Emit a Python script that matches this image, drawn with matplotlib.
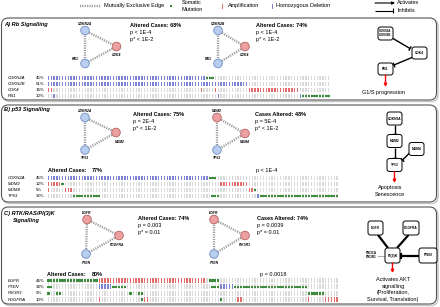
import matplotlib.pyplot as plt
from matplotlib.patches import FancyBboxPatch, Circle, Rectangle
import numpy as np

plt.rcParams['font.family'] = ['Liberation Sans', 'DejaVu Sans']

W, H = 440, 307
BLUE = '#7f83d3'
RED = '#e36b6b'
GREEN = '#3b8c3b'
GREY = '#dadada'

# oncoprint data: runs of (first sample, last sample, alteration)
# D = homozygous deletion, A = amplification, M = somatic mutation
n_a = 100
genes_a = ['CDKN2A', 'CDKN2B', 'CDK4', 'RB1']
pct_a = ['45%', '51%', '16%', '10%']
runs_a = [
    [(0, 55, 'D'), (56, 58, 'M')],
    [(0, 70, 'D')],
    [(0, 1, 'A'), (54, 54, 'A'), (59, 59, 'A'), (71, 88, 'A')],
    [(2, 2, 'D'), (60, 60, 'D'), (89, 89, 'D'), (90, 99, 'M')],
]

n_b = 103
genes_b = ['CDKN2A', 'MDM2', 'MDM4', 'TP53']
pct_b = ['45%', '12%', '5%', '32%']
runs_b = [
    [(0, 56, 'D'), (57, 59, 'M')],
    [(0, 4, 'A'), (5, 5, 'M'), (61, 70, 'A')],
    [(0, 0, 'A'), (6, 8, 'A'), (71, 72, 'A'), (73, 73, 'M')],
    [(9, 18, 'M'), (58, 60, 'M'), (74, 74, 'D'), (75, 102, 'M')],
]

n_c = 103
genes_c = ['EGFR', 'PTEN', 'PIK3R1', 'PDGFRA']
pct_c = ['46%', '34%', '9%', '10%']
runs_c = [
    [(0, 17, 'M'), (18, 55, 'A'), (57, 60, 'M')],
    [(0, 1, 'M'), (18, 22, 'D'), (23, 27, 'M'), (58, 60, 'M'), (61, 65, 'D'), (66, 91, 'M')],
    [(0, 0, 'M'), (3, 4, 'M'), (29, 29, 'M'), (32, 33, 'M'), (92, 97, 'M')],
    [(18, 18, 'A'), (33, 33, 'M'), (34, 35, 'A'), (61, 61, 'M'), (67, 68, 'A'), (92, 92, 'A'), (98, 102, 'A')],
]

# network stats text
stats_a1 = ['Altered Cases: 68%', 'p < 1E-4', 'p* < 1E-2']
stats_a2 = ['Altered Cases: 74%', 'p < 1E-4', 'p* < 1E-2']
stats_b1 = ['Altered Cases: 75%', 'p = 2E-4', 'p* < 1E-2']
stats_b2 = ['Cases Altered: 48%', 'p = 5E-4', 'p* < 1E-2']
stats_c1 = ['Altered Cases: 74%', 'p = 0.003', 'p* = 0.01']
stats_c2 = ['Cases Altered: 74%', 'p = 0.0039', 'p* = 0.01']

amplified = {'CDK4', 'MDM2', 'MDM4', 'EGFR', 'PDGFRA', 'PIK3R1'}

fig = plt.figure(figsize=(4.4, 3.07), dpi=100)
ax = fig.add_axes([0, 0, 1, 1])
ax.set_xlim(0, W)
ax.set_ylim(H, 0)
ax.axis('off')

FS = 4.0
TFS = 4.1


def px_axes(x0, y0, x1, y1):
    a = fig.add_axes([x0 / W, 1 - y1 / H, (x1 - x0) / W, (y1 - y0) / H])
    a.axis('off')
    return a


def panel(y0, y1):
    ax.add_patch(FancyBboxPatch((3, y0 + 1.5), 435, y1 - y0, boxstyle='round,pad=0,rounding_size=7',
                                fc='none', ec='#c4c4c4', lw=1.0))
    ax.add_patch(FancyBboxPatch((1.5, y0), 435, y1 - y0, boxstyle='round,pad=0,rounding_size=7',
                                fc='white', ec='#555555', lw=0.8))


def oncoprint(n, genes, pcts, runs, y_first, step, x0=47, spacing=2.83):
    y_top = y_first - step / 2
    a = px_axes(x0, y_top, x0 + n * spacing, y_top + step * len(genes))
    a.set_xlim(-0.5, n - 0.5)
    a.set_ylim(len(genes) - 0.5, -0.5)
    cols = np.arange(n)
    for r, g in enumerate(genes):
        a.bar(cols, 0.8, bottom=r - 0.4, width=0.45, color=GREY, lw=0)
        for s, e, kind in runs[r]:
            idx = np.arange(s, e + 1)
            if kind == 'M':
                a.bar(idx, 0.38, bottom=r - 0.19, width=0.78, color=GREEN, lw=0)
            else:
                a.bar(idx, 0.8, bottom=r - 0.4, width=0.5, color=BLUE if kind == 'D' else RED, lw=0)
        yy = y_first + r * step
        ax.text(7.5, yy, g, fontsize=3.2, style='italic', va='center', ha='left')
        ax.text(35.5, yy, pcts[r], fontsize=3.2, va='center', ha='left')


def network(names, pos, label_pos, stats, stats_xy):
    pts = [pos[k] for k in names]
    for i in range(3):
        for j in range(i + 1, 3):
            ax.plot([pts[i][0], pts[j][0]], [pts[i][1], pts[j][1]], color='#9a9a9a',
                    lw=1.7, linestyle=(0, (0.5, 0.5)), zorder=2)
    for k in names:
        amp = k in amplified
        ax.add_patch(Circle(pos[k], 4.3, fc='#eda0a0' if amp else '#b9cdef',
                            ec='#b76060' if amp else '#6f8fc4', lw=0.6, zorder=3))
        lx, ly = label_pos[k]
        ax.text(lx, ly, k, fontsize=2.4, style='italic', weight='bold', ha='center', va='center')
    sx, sy = stats_xy
    ax.text(sx, sy, stats[0], fontsize=FS, weight='bold', va='center')
    ax.text(sx, sy + 7, stats[1], fontsize=FS, va='center')
    ax.text(sx, sy + 13.5, stats[2], fontsize=FS, va='center')


def box(cx, cy, w, h, label, fs=2.3):
    ax.add_patch(FancyBboxPatch((cx - w / 2, cy - h / 2), w, h, boxstyle='round,pad=0,rounding_size=2.5',
                                fc='white', ec='black', lw=0.7, zorder=3))
    ax.text(cx, cy, label, fontsize=fs, weight='bold', ha='center', va='center', zorder=4,
            linespacing=1.0)


def inhibit(p0, p1, lw=1.0, bar=2.5, color='black'):
    (x0, y0), (x1, y1) = p0, p1
    ax.plot([x0, x1], [y0, y1], color=color, lw=lw, solid_capstyle='butt')
    d = np.array([x1 - x0, y1 - y0], float)
    d /= np.hypot(*d)
    n = np.array([-d[1], d[0]])
    ax.plot([x1 - n[0] * bar, x1 + n[0] * bar], [y1 - n[1] * bar, y1 + n[1] * bar],
            color=color, lw=lw, solid_capstyle='butt')


def activate(p0, p1, color='red', lw=1.0):
    ax.annotate('', xy=p1, xytext=p0,
                arrowprops=dict(arrowstyle='-|>', color=color, lw=lw, mutation_scale=4,
                                shrinkA=0, shrinkB=0))


# ---- legend ----
ax.plot([80, 101], [6, 6], color='#9a9a9a', lw=1.7, linestyle=(0, (0.5, 0.5)))
ax.text(103.5, 6, 'Mutually Exclusive Edge', fontsize=FS, va='center')
ax.add_patch(Rectangle((169.5, 4.8), 2.6, 2.4, color=GREEN, lw=0))
ax.text(181.5, 2.3, 'Somatic', fontsize=FS, va='center')
ax.text(181.5, 9.5, 'Mutation', fontsize=FS, va='center')
ax.add_patch(Rectangle((221.5, 3.5), 1.5, 5, color=RED, lw=0))
ax.text(228, 6, 'Amplification', fontsize=FS, va='center')
ax.add_patch(Rectangle((271.5, 3.5), 1.5, 5, color=BLUE, lw=0))
ax.text(276.5, 6, 'Homozygous Deletion', fontsize=FS, va='center')
activate((375, 3), (395, 3), color='black', lw=0.8)
ax.text(397, 3, 'Activates', fontsize=FS, va='center')
inhibit((375, 10.5), (393, 10.5), lw=0.8, bar=2.2)
ax.text(397, 10.5, 'Inhibits', fontsize=FS, va='center')

# ---- panel A ----
panel(18, 100)
ax.text(4, 24.5, 'A) Rb Signalling', fontsize=TFS, weight='bold', style='italic', va='center')
network(['CDKN2A', 'CDK4', 'RB1'],
        {'CDKN2A': (85, 30.5), 'CDK4': (116.5, 46.5), 'RB1': (85, 63.5)},
        {'CDKN2A': (85, 24), 'CDK4': (117, 55.5), 'RB1': (75, 59.5)},
        stats_a1, (130, 25.5))
network(['CDKN2B', 'CDK4', 'RB1'],
        {'CDKN2B': (218, 30.5), 'CDK4': (245, 46.5), 'RB1': (218, 63.5)},
        {'CDKN2B': (218, 24), 'CDK4': (245, 55.5), 'RB1': (208, 59.5)},
        stats_a2, (256, 25.5))
box(385.5, 33.5, 15, 13, 'CDKN2A\nCDKN2B', fs=2.1)
box(419.5, 53, 15, 12, 'CDK4')
box(385.5, 69, 15, 12, 'RB1')
inhibit((393, 38.5), (410, 48.5))
inhibit((412, 57.5), (394, 65))
activate((385.5, 75), (385.5, 87))
ax.text(384, 92.5, 'G1/S progression', fontsize=FS, ha='center', va='center')
oncoprint(n_a, genes_a, pct_a, runs_a, 78, 6)

# ---- panel B ----
panel(105, 202)
ax.text(4, 110, 'B) p53 Signalling', fontsize=TFS, weight='bold', style='italic', va='center')
network(['CDKN2A', 'MDM2', 'TP53'],
        {'CDKN2A': (85, 117.5), 'MDM2': (116, 132.5), 'TP53': (85, 150)},
        {'CDKN2A': (85, 110.5), 'MDM2': (120, 142), 'TP53': (85, 158)},
        stats_b1, (133, 115))
network(['MDM2', 'MDM4', 'TP53'],
        {'MDM2': (217, 117.5), 'MDM4': (245, 133.5), 'TP53': (217, 150)},
        {'MDM2': (217, 110.5), 'MDM4': (245, 142), 'TP53': (217, 158)},
        stats_b2, (255, 115))
box(394.5, 118.5, 15, 13, 'CDKN2A')
box(394.5, 141, 15, 13, 'MDM2')
box(416.5, 149, 15, 13, 'MDM4')
box(394.5, 165, 15, 13, 'TP53')
inhibit((394.5, 125), (394.5, 134.2))
inhibit((394.5, 147.5), (394.5, 158.2))
inhibit((409.5, 153), (402.5, 160))
activate((394.5, 171.5), (394.5, 183))
ax.text(390, 187.5, 'Apoptosis', fontsize=FS, ha='center', va='center')
ax.text(390, 194, 'Senescence', fontsize=FS, ha='center', va='center')
ax.text(48, 170.5, 'Altered Cases:', fontsize=FS, weight='bold', va='center')
ax.text(92, 170.5, '77%', fontsize=FS, weight='bold', va='center')
ax.text(256, 170.5, 'p < 1E-4', fontsize=FS, va='center')
oncoprint(n_b, genes_b, pct_b, runs_b, 178, 6)

# ---- panel C ----
panel(207, 304)
ax.text(4, 214, 'C) RTK/RAS/PI(3)K', fontsize=TFS, weight='bold', style='italic', va='center')
ax.text(12.5, 220.5, 'Signalling', fontsize=TFS, weight='bold', style='italic', va='center')
network(['EGFR', 'PDGFRA', 'PTEN'],
        {'EGFR': (87, 219.5), 'PDGFRA': (119, 235.5), 'PTEN': (86, 254)},
        {'EGFR': (87, 213), 'PDGFRA': (117, 245), 'PTEN': (86, 263)},
        stats_c1, (138, 219))
network(['EGFR', 'PIK3R1', 'PTEN'],
        {'EGFR': (214, 219.5), 'PIK3R1': (245, 235.5), 'PTEN': (214, 254)},
        {'EGFR': (214, 213), 'PIK3R1': (245, 245), 'PTEN': (214, 263)},
        stats_c2, (257, 219))
box(375.5, 228, 15, 14, 'EGFR')
box(411, 228, 16, 14, 'PDGFRA')
box(392.5, 255.5, 15, 15, 'PI(3)K', fs=2.6)
box(428, 255.5, 18, 15, 'PTEN')
ax.plot([378, 388], [235, 248], color='black', lw=1.6, solid_capstyle='butt')
ax.plot([408.5, 397], [235, 248], color='black', lw=1.6, solid_capstyle='butt')
inhibit((419, 255.5), (400.8, 255.5), lw=1.6, bar=3)
ax.plot([377.5, 385], [255.5, 255.5], color='#aaaaaa', lw=0.8)
ax.text(377, 253, 'PIK3CA', fontsize=2.2, weight='bold', ha='right', va='center')
ax.text(377, 257.5, 'PIK3R1', fontsize=2.2, weight='bold', ha='right', va='center')
activate((392.5, 263), (392.5, 273))
for i, line in enumerate(['Activates AKT', 'signalling', '(Proliferation,', 'Survival, Translation)']):
    ax.text(393, 279.5 + i * 6.7, line, fontsize=FS, ha='center', va='center')
ax.text(47, 274.5, 'Altered Cases:', fontsize=FS, weight='bold', va='center')
ax.text(92, 274.5, '80%', fontsize=FS, weight='bold', va='center')
ax.text(260, 274.5, 'p = 0.0018', fontsize=FS, va='center')
oncoprint(n_c, genes_c, pct_c, runs_c, 280.5, 6.4)

fig.savefig('out.png', dpi=100)
